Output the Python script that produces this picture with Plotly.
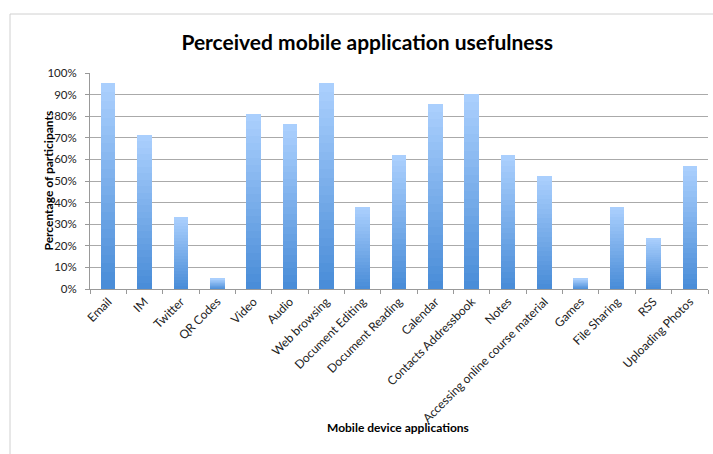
import plotly.graph_objects as go

categories = ["Email", "IM", "Twitter", "QR Codes", "Video", "Audio", "Web browsing",
              "Document Editing", "Document Reading", "Calendar", "Contacts Addressbook",
              "Notes", "Accessing online course material", "Games", "File Sharing", "RSS",
              "Uploading Photos"]
values = [95.2, 71.4, 33.3, 4.8, 81.0, 76.2, 95.2, 38.1, 61.9, 85.7, 90.5, 61.9, 52.4, 4.8, 38.1, 23.8, 57.1]
y_ticks = [0, 10, 20, 30, 40, 50, 60, 70, 80, 90, 100]
y_tick_labels = [f"{t}%" for t in y_ticks]

FONT = "Lato, 'Open Sans', sans-serif"

# vertical gradient simulated with stacked slices of each bar
N = 24
bottom = (74, 141, 216)
top = (170, 207, 253)
fig = go.Figure()
for i in range(N):
    f = i / (N - 1)
    c = tuple(round(bottom[k] + (top[k] - bottom[k]) * f) for k in range(3))
    fig.add_trace(go.Bar(
        x=categories, y=[v / N for v in values],
        marker=dict(color=f"rgb{c}", line=dict(width=0)),
        showlegend=False, hoverinfo="skip"))

fig.update_layout(
    barmode="stack", bargap=0.6,
    width=713, height=454,
    margin=dict(l=90, r=5, t=73, b=165),
    paper_bgcolor="white", plot_bgcolor="white",
    font=dict(family=FONT, size=12, color="#222"),
    title=dict(text="<b>Perceived mobile application usefulness</b>",
               x=0.515, xanchor="center", y=1 - 43 / 454, yanchor="middle",
               font=dict(family=FONT, size=21, color="#000")),
    xaxis=dict(tickangle=-45, ticks="outside", tickson="boundaries", ticklen=4,
               tickcolor="#999", showline=True, linecolor="#999", linewidth=1,
               tickfont=dict(size=12, color="#222")),
    yaxis=dict(range=[0, 100], tickvals=y_ticks, ticktext=y_tick_labels,
               showgrid=True, gridcolor="#aaaaaa", gridwidth=1,
               showline=True, linecolor="#999", ticks="outside", ticklen=4,
               tickcolor="#999", zeroline=False, ticklabelstandoff=6,
               tickfont=dict(size=11.5, color="#222")),
    annotations=[
        dict(text="<b>Percentage of participants</b>", xref="paper", yref="paper",
             x=-(90 - 38) / 618, y=0.5, textangle=-90, showarrow=False,
             font=dict(family=FONT, size=12, color="#000")),
        dict(text="<b>Mobile device applications</b>", xref="paper", yref="paper",
             x=(398 - 90) / 618, y=-(437 - 289) / 216, showarrow=False,
             font=dict(family=FONT, size=12, color="#000")),
    ],
    shapes=[dict(type="rect", xref="paper", yref="paper",
                 x0=-(90 - 10) / 618, x1=1.05, y0=-0.9, y1=1 + (73 - 14) / 216,
                 line=dict(color="#d0d0d0", width=1), layer="below")],
)

fig.write_html("out.html")
